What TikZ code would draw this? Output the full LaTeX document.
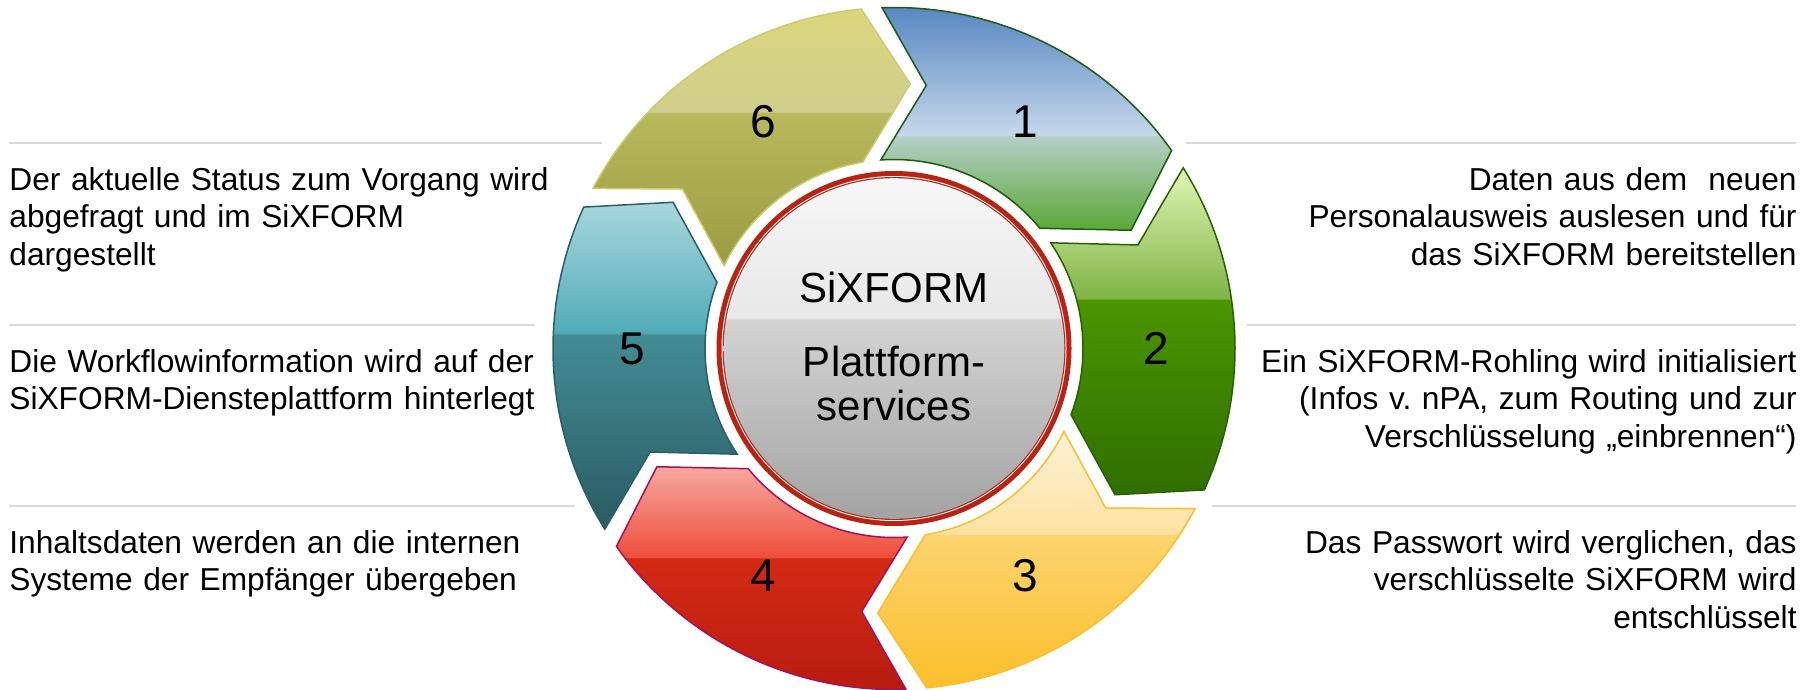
\documentclass[tikz,border=0pt]{standalone}
\usepackage{fontspec}
\setmainfont{Liberation Sans}
\definecolor{sepgray}{HTML}{D9D9D9}
\definecolor{ringred}{HTML}{B82414}
% segment 1 (blue-green)
\definecolor{aA}{HTML}{5585C0}\definecolor{aB}{HTML}{C5D7EC}\definecolor{aC}{HTML}{B5CFC8}\definecolor{aD}{HTML}{5AA835}\definecolor{lA}{HTML}{1D5A12}
% segment 2 (green)
\definecolor{bA}{HTML}{E0F5B5}\definecolor{bB}{HTML}{7FB545}\definecolor{bC}{HTML}{4A9600}\definecolor{bD}{HTML}{2F6E00}\definecolor{lB}{HTML}{2A6000}
% segment 3 (yellow)
\definecolor{cA}{HTML}{FFF2D6}\definecolor{cB}{HTML}{FDE2A2}\definecolor{cC}{HTML}{FCD46E}\definecolor{cD}{HTML}{FBBF2A}\definecolor{lC}{HTML}{F8C030}
% segment 4 (red)
\definecolor{dA}{HTML}{F6A8A0}\definecolor{dB}{HTML}{EF4E3A}\definecolor{dC}{HTML}{D42A14}\definecolor{dD}{HTML}{B71C10}\definecolor{lD}{HTML}{A8105A}
% segment 5 (teal)
\definecolor{eA}{HTML}{A9D6DD}\definecolor{eB}{HTML}{50ACB8}\definecolor{eC}{HTML}{438C95}\definecolor{eD}{HTML}{2A5B62}\definecolor{lE}{HTML}{2A5E66}
% segment 6 (olive)
\definecolor{fA}{HTML}{DBD67C}\definecolor{fB}{HTML}{D0CE8C}\definecolor{fC}{HTML}{B8B85C}\definecolor{fD}{HTML}{9B9B42}\definecolor{lF}{HTML}{CDCB72}
% centre (gray)
\definecolor{gA}{HTML}{F7F7F7}\definecolor{gB}{HTML}{E8E8E8}\definecolor{gC}{HTML}{D3D3D3}\definecolor{gD}{HTML}{A3A3A3}
\pgfdeclareverticalshading{shA}{100bp}{color(0bp)=(aD); color(25bp)=(aD); color(45.8bp)=(aC); color(46bp)=(aB); color(75bp)=(aA); color(100bp)=(aA)}
\pgfdeclareverticalshading{shB}{100bp}{color(0bp)=(bD); color(25bp)=(bD); color(54.8bp)=(bC); color(55bp)=(bB); color(75bp)=(bA); color(100bp)=(bA)}
\pgfdeclareverticalshading{shC}{100bp}{color(0bp)=(cD); color(25bp)=(cD); color(54.8bp)=(cC); color(55bp)=(cB); color(75bp)=(cA); color(100bp)=(cA)}
\pgfdeclareverticalshading{shD}{100bp}{color(0bp)=(dD); color(25bp)=(dD); color(54.8bp)=(dC); color(55bp)=(dB); color(75bp)=(dA); color(100bp)=(dA)}
\pgfdeclareverticalshading{shE}{100bp}{color(0bp)=(eD); color(25bp)=(eD); color(54.8bp)=(eC); color(55bp)=(eB); color(75bp)=(eA); color(100bp)=(eA)}
\pgfdeclareverticalshading{shF}{100bp}{color(0bp)=(fD); color(25bp)=(fD); color(54.8bp)=(fC); color(55bp)=(fB); color(75bp)=(fA); color(100bp)=(fA)}
\pgfdeclareverticalshading{shG}{100bp}{color(0bp)=(gD); color(25bp)=(gD); color(54.3bp)=(gC); color(54.5bp)=(gB); color(75bp)=(gA); color(100bp)=(gA)}
\frenchspacing
\begin{document}
\begin{tikzpicture}[x=0.5pt, y=-0.5pt,
  sepline/.style={draw=sepgray, line width=0.9pt},
  desc/.style={inner sep=0pt, text width=340pt, font=\fontsize{15.85}{18.75}\selectfont},
  numlabel/.style={inner sep=0pt, font=\fontsize{23}{27}\selectfont},
  segshape/.style={line width=0.75pt, line join=miter},
  centertext/.style={inner sep=0pt, font=\fontsize{21}{22}\selectfont}]
\useasboundingbox[fill=white] (0,0) rectangle (1814,690);
\coordinate (C) at (894,348.5);

% separator lines
\draw[sepline] (9,143) -- (602,143);
\draw[sepline] (9,325) -- (535,325);
\draw[sepline] (9,506) -- (575,506);
\draw[sepline] (1186,143) -- (1796,143);
\draw[sepline] (1247,325) -- (1796,325);
\draw[sepline] (1212,506) -- (1796,506);

\begin{scope}[shift={(C)}, x=0.5pt, y=0.5pt]
  \foreach \r/\sh/\lc/\n in {0/shA/lA/1, -60/shB/lB/2, -120/shC/lC/3, -180/shD/lD/4, -240/shE/lE/5, -300/shF/lF/6}{
    \shadedraw[segshape, shading=\sh, draw=\lc]
      (92+\r:341) arc[start angle=92+\r, end angle=35.5+\r, radius=341]
      -- (26.5+\r:265) -- (39.5+\r:189)
      arc[start angle=39.5+\r, end angle=94+\r, radius=189]
      -- (83+\r:265) -- cycle;
    \node[numlabel] (n\n) at (60+\r:262) {\n};
  }
  % centre disc
  \fill[ringred] (0,0) circle[radius=177.5];
  \fill[white] (0,0) circle[radius=172.5];
  \fill[ringred] (0,0) circle[radius=171.5];
  \shade[shading=shG] (0,0) circle[radius=170.3];
\end{scope}

\node[centertext, anchor=base] (title) at (894,302) {SiXFORM};
\node[centertext, anchor=base, align=center, text width=150pt] (sub) at (894,376) {Plattform-\\services};

% left descriptions
\node[desc, anchor=base west, align=left] (t6) at (9,190) {Der aktuelle Status zum Vorgang wird\\abgefragt und im SiXFORM\\dargestellt};
\node[desc, anchor=base west, align=left] (t5) at (9,372) {Die Workflowinformation wird auf der\\SiXFORM-Diensteplattform hinterlegt};
\node[desc, anchor=base west, align=left] (t4) at (9,553) {Inhaltsdaten werden an die internen\\Systeme der Empfänger übergeben};

% right descriptions
\node[desc, anchor=base east, align=right] (t1) at (1797,190) {Daten aus dem\ \ neuen\\Personalausweis auslesen und für\\das SiXFORM bereitstellen};
\node[desc, anchor=base east, align=right] (t2) at (1797,372) {Ein SiXFORM-Rohling wird initialisiert\\(Infos v. nPA, zum Routing und zur\\Verschlüsselung „einbrennen“)};
\node[desc, anchor=base east, align=right] (t3) at (1797,553) {Das Passwort wird verglichen, das\\verschlüsselte SiXFORM wird\\entschlüsselt};
\end{tikzpicture}
\end{document}
